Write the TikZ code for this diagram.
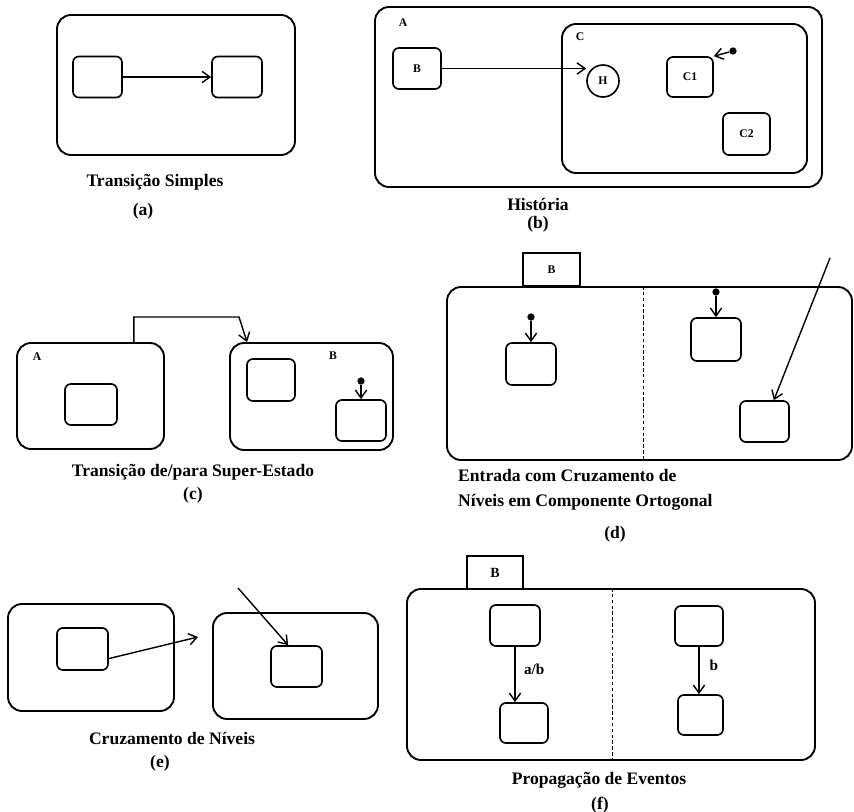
\documentclass[tikz,border=0pt]{standalone}
\usepackage{fontspec}
\setmainfont{Liberation Serif}
\usetikzlibrary{positioning}
\usetikzlibrary{arrows.meta}

\begin{document}
\begin{tikzpicture}[x=0.03cm, y=-0.03cm,
	superst/.style={draw, line width=1.6pt, rounded corners=12pt, inner sep=0pt},
	st/.style={draw, line width=1.4pt, rounded corners=5pt, inner sep=0pt,
		font=\bfseries\fontsize{10}{12}\selectfont},
	tabst/.style={draw, line width=1.3pt, inner sep=0pt, minimum width=1.7cm,
		minimum height=1cm, font=\bfseries\fontsize{10}{12}\selectfont},
	lbl/.style={font=\bfseries\fontsize{10}{12}\selectfont, inner sep=0pt},
	evlbl/.style={font=\bfseries\fontsize{13}{15}\selectfont, inner sep=0pt},
	caption/.style={font=\bfseries\fontsize{15}{21}\selectfont, inner sep=0pt},
	trans/.style={-{Straight Barb[length=2.4mm,width=3.4mm]}, line width=1.2pt},
	dot/.style={circle, fill, inner sep=0pt, minimum size=0.22cm},
	ortho/.style={dash pattern=on 3pt off 2pt, line width=0.5pt}]
	
	\useasboundingbox (0,0) rectangle (854,812);
	
	% ---- (a) transicao simples ----
	\node[superst, minimum width=7.14cm, minimum height=4.2cm] (aA) at (176,85) {};
	\node[st, minimum width=1.47cm, minimum height=1.23cm] (a1) at (97.5,77) {};
	\node[st, minimum width=1.5cm, minimum height=1.23cm] (a2) at (237,77) {};
	\draw[trans] (a1) -- (a2);
	\node[caption] (capa) at (155,182) {Transição Simples};
	\node[caption] (taga) at (143,211) {(a)};
	
	% ---- (b) historia ----
	\node[superst, minimum width=13.41cm, minimum height=5.4cm] (bA) at (598.5,97) {};
	\node[lbl] (labA) at (403,23) {A};
	\node[st, minimum width=1.44cm, minimum height=1.23cm] (bB) at (417,68.5) {B};
	\node[superst, minimum width=7.35cm, minimum height=4.47cm] (bC) at (684.5,98.5) {};
	\node[lbl] (labC) at (580,37) {C};
	\node[circle, draw, line width=1.4pt, minimum size=0.96cm, inner sep=0pt,
	font=\bfseries\fontsize{10}{12}\selectfont] (bH) at (603,81) {H};
	\node[st, minimum width=1.38cm, minimum height=1.2cm] (bC1) at (690,77) {C1};
	\node[st, minimum width=1.41cm, minimum height=1.26cm] (bC2) at (746.5,134) {C2};
	\node[dot] (bdot) at (733,51) {};
	\draw[trans] (bB.east) -- (bB.east -| bH.west);
	\draw[trans] (bdot) -- (bC1.north east);
	\node[caption] (capb) at (538,204) {História};
	\node[caption] (tagb) at (538,224) {(b)};
	
	% ---- (c) transicao de/para super-estado ----
	\node[superst, minimum width=4.41cm, minimum height=3.18cm] (cA) at (90.5,396) {};
	\node[lbl] (labcA) at (37,357) {A};
	\node[st, minimum width=1.56cm, minimum height=1.23cm] (cA1) at (91,404.5) {};
	\node[superst, minimum width=4.89cm, minimum height=3.21cm] (cB) at (311.5,396.5) {};
	\node[lbl] (labcB) at (333,356) {B};
	\node[st, minimum width=1.44cm, minimum height=1.26cm] (cB1) at (271,380) {};
	\node[st, minimum width=1.5cm, minimum height=1.23cm] (cB2) at (361,420.5) {};
	\node[dot] (cdot) at (361,381) {};
	\draw[trans] (cdot) -- (cB2.north);
	\coordinate (cbend) at (239,317);
	\draw[trans] ([xshift=-0.93cm]cA.north east) |- (cbend) -- ([xshift=0.54cm]cB.north west);
	\node[caption] (capc) at (193,472) {Transição de/para Super-Estado};
	\node[caption] (tagc) at (193,495) {(c)};
	
	% ---- (d) entrada em componente ortogonal ----
	\node[tabst] (dB) at (551.5,269.5) {B};
	\node[superst, minimum width=12.15cm, minimum height=5.19cm] (dS) at (649.5,373.5) {};
	\draw[ortho] (dS.north -| 643,0) -- (dS.south -| 643,0);
	\node[st, minimum width=1.5cm, minimum height=1.26cm] (dL) at (531,364) {};
	\node[dot] (dLdot) at (531,317) {};
	\draw[trans] (dLdot) -- (dL.north);
	\node[st, minimum width=1.5cm, minimum height=1.29cm] (dR1) at (716,339.5) {};
	\node[dot] (dRdot) at (716,292) {};
	\draw[trans] (dRdot) -- (dR1.north);
	\node[st, minimum width=1.47cm, minimum height=1.23cm] (dR2) at (764.5,421.5) {};
	\coordinate (dsrc) at (830,258);
	\draw[trans] (dsrc) -- ([xshift=0.28cm]dR2.north);
	\node[caption, align=left, anchor=west] (capd) at (458,490)
	{Entrada com Cruzamento de\\Níveis em Componente Ortogonal};
	\node[caption] (tagd) at (615,534) {(d)};
	
	% ---- (e) cruzamento de niveis ----
	\node[superst, minimum width=4.98cm, minimum height=3.21cm] (eL) at (91,657.5) {};
	\node[st, minimum width=1.53cm, minimum height=1.26cm] (eL1) at (82.5,649) {};
	\node[superst, minimum width=4.95cm, minimum height=3.18cm] (eR) at (295.5,666) {};
	\node[st, minimum width=1.53cm, minimum height=1.23cm] (eR1) at (296.5,666.5) {};
	\coordinate (efree) at (198,637);
	\draw[trans] (eL1.-20) -- (efree);
	\coordinate (esrc) at (238,588);
	\draw[trans] (esrc) -- ([xshift=-0.25cm]eR1.north);
	\node[caption] (cape) at (172,738) {Cruzamento de Níveis};
	\node[caption] (tage) at (160,763) {(e)};
	
	% ---- (f) propagacao de eventos ----
	\node[tabst, minimum width=1.68cm, font=\bfseries\fontsize{12}{14}\selectfont] (fB) at (495,572.5) {B};
	\node[superst, minimum width=12.24cm, minimum height=5.13cm] (fS) at (611,674.5) {};
	\draw[ortho] (fS.north -| 612,0) -- (fS.south -| 612,0);
	\node[st, minimum width=1.5cm, minimum height=1.23cm] (fL1) at (515,625.5) {};
	\node[st, minimum width=1.44cm, minimum height=1.2cm] (fL2) at (524,723) {};
	\node[st, minimum width=1.44cm, minimum height=1.2cm] (fR1) at (699,626) {};
	\node[st, minimum width=1.35cm, minimum height=1.2cm] (fR2) at (700.5,715) {};
	\draw[trans] (fL1.south) -- (fL1.south |- fL2.north)
	node[evlbl, pos=0.4, right=0.25cm] {a/b};
	\draw[trans] (fR1.south) -- (fR1.south |- fR2.north)
	node[evlbl, pos=0.4, right=0.3cm] {b};
	\node[caption] (capf) at (599,780) {Propagação de Eventos};
	\node[caption] (tagf) at (600,805) {(f)};
	
\end{tikzpicture}
\end{document}
